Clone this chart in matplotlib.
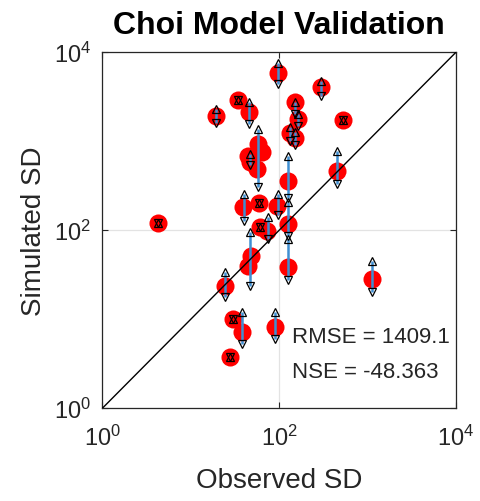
import numpy as np
import matplotlib.pyplot as plt

plt.rcParams['font.family'] = ['Liberation Sans', 'DejaVu Sans']
plt.rcParams['mathtext.fontset'] = 'custom'
plt.rcParams['mathtext.rm'] = 'Liberation Sans'

# observed vs simulated SD, one red point per site
obs_sd = [4.24, 19.2, 34.1, 45.4, 96.7, 296, 150.6, 163, 526, 132, 150.6,
          57.4, 63.7, 44.3, 46.6, 55.9, 125.4, 449.6, 38.9, 58.9, 94.2,
          125.4, 60.5, 72.6, 47.8, 44.3, 125.4, 24.3, 1119, 29.9, 37.9,
          89.4, 27.7]
sim_sd = [120, 1910, 2890, 2118, 5800, 4045, 2742, 1767, 1722, 1230, 1081,
          925, 752, 678, 581, 485, 355, 460, 181, 201, 186,
          117, 108, 97.5, 51, 39.4, 38.4, 23.5, 28.1, 10, 7.14,
          8.13, 3.74]

# simulated SD range (min / max) drawn as bars
rng_x = [96.7, 45.4, 19.2, 296, 150.6, 163, 132, 150.6, 57.4, 46.6,
         125.4, 449.6, 39.9, 96.7, 125.4, 74.5, 46.6, 125.4, 24.3, 1119,
         37.9, 89.4, 4.24, 34.1, 526, 58.9, 60.5, 29.9, 27.7]
rng_lo = [4370, 1552, 1593, 3205, 2011, 1475, 1000, 902, 304, 537,
          229, 329, 126, 147, 85.6, 79.2, 23.5, 27.4, 17.7, 20.1,
          5.24, 5.96, 120, 2890, 1722, 201, 108, 10, 3.74]
rng_hi = [7520, 2742, 2290, 4720, 2742, 2011, 1437, 1262, 1364, 714,
          678, 772, 254, 254, 206, 140, 95, 79.2, 33.7, 44.8,
          12.0, 12.0, 120, 2890, 1722, 201, 108, 10, 3.74]

rmse = 1409.1
nse = -48.363

fig = plt.figure(figsize=(4.8, 5.02), dpi=100)
ax = fig.add_axes([0.2135, 0.185, 0.7365, 0.709])

ax.plot(obs_sd, sim_sd, 'o', color='red', markersize=13, markeredgewidth=0,
        zorder=2)
ax.vlines(rng_x, rng_lo, rng_hi, color='#3f8fd2', linewidth=1.8, zorder=3)
ax.plot(rng_x, rng_hi, '^', markersize=5.5, markerfacecolor='none',
        markeredgecolor='black', markeredgewidth=0.9, zorder=4)
ax.plot(rng_x, rng_lo, 'v', markersize=5.5, markerfacecolor='none',
        markeredgecolor='black', markeredgewidth=0.9, zorder=4)
ax.plot([1, 1e4], [1, 1e4], color='black', linewidth=1.0, zorder=5)

ax.set_xscale('log')
ax.set_yscale('log')
ax.set_xlim(1, 1e4)
ax.set_ylim(1, 1e4)
ax.set_xticks([1, 1e2, 1e4])
ax.set_yticks([1, 1e2, 1e4])
ax.minorticks_off()
ax.grid(True, color='#e3e3e3', linewidth=0.9, zorder=0)
ax.set_axisbelow(True)
ax.tick_params(direction='in', length=4, width=0.8, colors='#262626',
               labelsize=17, top=True, right=True)
ax.tick_params(axis='x', pad=12)
ax.tick_params(axis='y', pad=8)
for s in ax.spines.values():
    s.set_color('#262626')
    s.set_linewidth(0.9)

ax.set_title('Choi Model Validation', fontsize=23, fontweight='bold',
             pad=14)
ax.set_xlabel('Observed SD', fontsize=20, color='#262626', labelpad=12)
ax.set_ylabel('Simulated SD', fontsize=20, color='#262626', labelpad=5)

ax.text(0.535, 0.2, 'RMSE = %.1f' % rmse, transform=ax.transAxes,
        fontsize=16, color='#262626', va='center')
ax.text(0.535, 0.102, 'NSE = %.3f' % nse, transform=ax.transAxes,
        fontsize=16, color='#262626', va='center')

fig.savefig('out.png', dpi=100)
